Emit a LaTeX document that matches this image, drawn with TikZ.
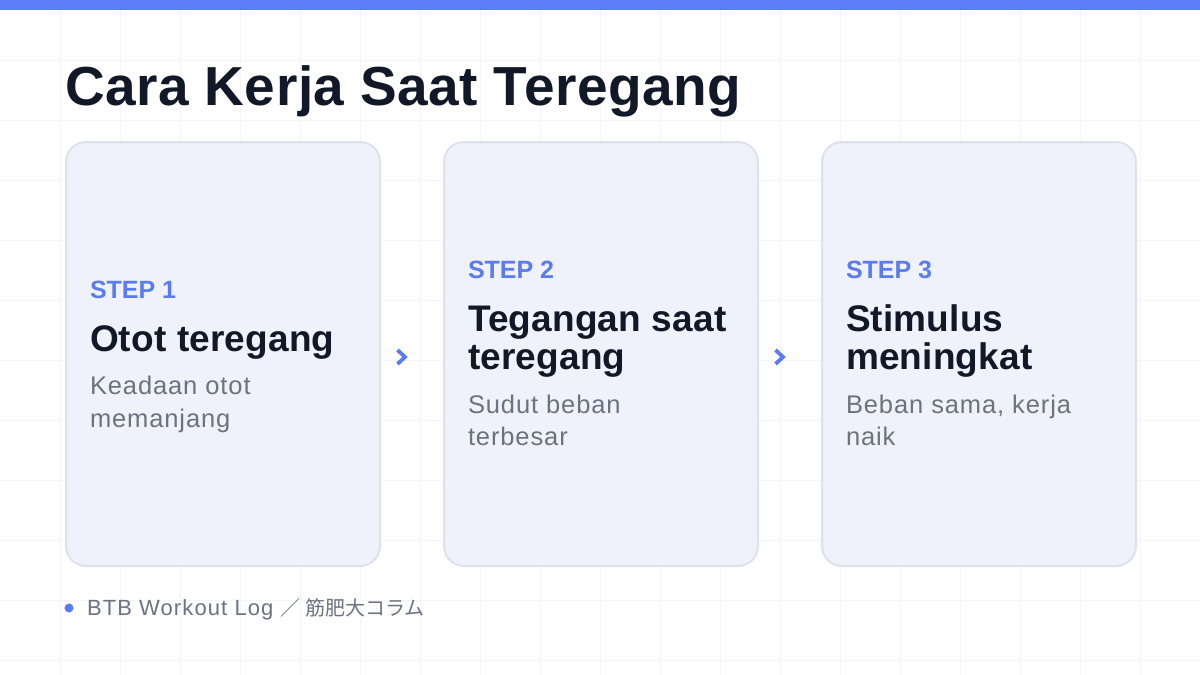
\documentclass[tikz,border=0pt]{standalone}
\usepackage{fontspec}
\setmainfont{Liberation Sans}
\newfontfamily\cjk{Noto Sans CJK JP}
\newfontfamily\widesans[LetterSpace=3.5]{Liberation Sans}
\newfontfamily\footsans[LetterSpace=5]{Liberation Sans}
\newfontfamily\headsans[LetterSpace=0.5]{Liberation Sans}
\newfontfamily\titlesans[LetterSpace=1]{Liberation Sans}
\definecolor{topbar}{HTML}{5B7EF7}
\definecolor{gridc}{HTML}{F4F5F8}
\definecolor{cardbg}{HTML}{EFF2FB}
\definecolor{cardln}{HTML}{DEE2EF}
\definecolor{ink}{HTML}{111827}
\definecolor{stepc}{HTML}{5B7CF0}
\definecolor{descc}{HTML}{6B7280}
\tikzset{
  card/.style={draw=cardln, fill=cardbg, line width=2pt, rounded corners=20pt, anchor=north west, minimum width=314pt, minimum height=424pt, inner sep=0pt},
  txt/.style={anchor=base west, inner sep=0pt, outer sep=0pt},
  steplbl/.style={txt, text=stepc, font=\fontsize{25}{30}\selectfont\bfseries},
  head/.style={txt, text=ink, font=\headsans\fontsize{37}{40}\selectfont\bfseries},
  desc/.style={txt, text=descc, font=\widesans\fontsize{25.5}{30}\selectfont},
  chev/.style={draw=stepc, line width=3.8pt, line join=miter, line cap=butt},
}
\begin{document}
\begin{tikzpicture}[x=1pt,y=-1pt]
\useasboundingbox (0,0) rectangle (1200,675);
\fill[white] (0,0) rectangle (1200,675);
\foreach \gx in {60,120,...,1140} \draw[gridc, line width=1pt] (\gx,10) -- (\gx,675);
\foreach \gy in {60,120,...,660} \draw[gridc, line width=1pt] (0,\gy) -- (1200,\gy);
\fill[topbar] (0,0) rectangle (1200,10);
\node[txt, text=ink, font=\titlesans\fontsize{55}{60}\selectfont\bfseries] (title) at (65,105) {Cara Kerja Saat Teregang};
% cards
\node[card] (c1) at (65,141) {};
\node[card] (c2) at (443,141) {};
\node[card] (c3) at (821,141) {};
% card 1
\node[steplbl] (s1) at (90,298) {STEP 1};
\node[head] (h1) at (90,351) {Otot teregang};
\node[desc] (d1a) at (90,394) {Keadaan otot};
\node[desc] (d1b) at (90,427) {memanjang};
% card 2
\node[steplbl] (s2) at (468,278) {STEP 2};
\node[head] (h2a) at (468,331) {Tegangan saat};
\node[head] (h2b) at (468,369) {teregang};
\node[desc] (d2a) at (468,413) {Sudut beban};
\node[desc] (d2b) at (468,445) {terbesar};
% card 3
\node[steplbl] (s3) at (846,278) {STEP 3};
\node[head] (h3a) at (846,331) {Stimulus};
\node[head] (h3b) at (846,369) {meningkat};
\node[desc] (d3a) at (846,413) {Beban sama, kerja};
\node[desc] (d3b) at (846,445) {naik};
% chevrons
\coordinate (a1) at (405,357);
\coordinate (a2) at (783,357);
\draw[chev] (a1) ++(-7.5,-7) -- (a1) -- ++(-7.5,7);
\draw[chev] (a2) ++(-7.5,-7) -- (a2) -- ++(-7.5,7);
% footer
\fill[stepc] (69,608) circle (4.5pt) coordinate (dot);
\node[txt, text=descc, font=\footsans\fontsize{22}{24}\selectfont] (foot) at (87,615) {BTB Workout Log {\cjk\fontsize{20}{24}\selectfont ／ 筋肥大コラム}};
\end{tikzpicture}
\end{document}
